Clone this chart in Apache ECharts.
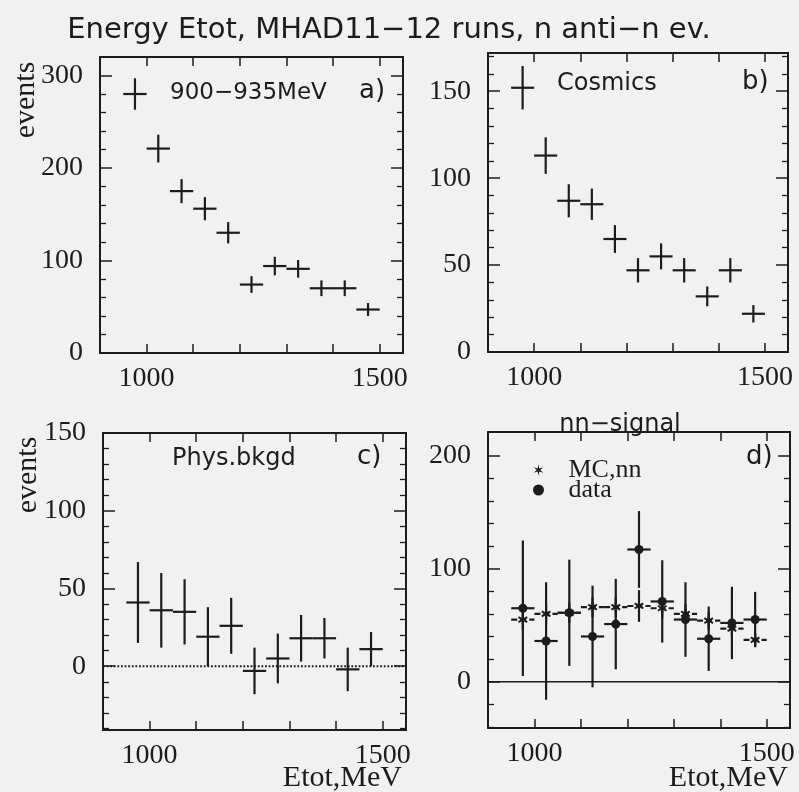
<!DOCTYPE html>
<html><head><meta charset="utf-8">
<script src="https://cdn.jsdelivr.net/npm/echarts@6/dist/echarts.min.js"></script>
<style>html,body{margin:0;padding:0;background:#f1f1f1}#c{width:799px;height:792px}</style>
</head><body><div id="c"></div>
<script>
// ---------- data ----------
const binCenters = [975, 1025, 1075, 1125, 1175, 1225, 1275, 1325, 1375, 1425, 1475];
const binHalfWidth = 25;

const aValues = [280, 221, 175, 156, 130, 74, 94, 91, 70, 70, 47];
const aErrors = [17, 15, 13, 12.5, 11.5, 9, 10, 9.5, 8.5, 8.5, 7];

const bValues = [152, 113, 87, 85, 65, 47, 55, 47, 32, 47, 22];
const bErrors = [12.5, 10.5, 9.5, 9, 8, 7, 7.5, 7, 5.7, 7, 5];

const cValues = [41, 36, 35, 19, 26, -3, 5, 18, 18, -2, 11];
const cErrors = [26, 24, 21, 19, 18, 15, 16, 15, 13, 14, 11];

const dDataValues = [65, 36, 61, 40, 51, 117, 71, 55, 38, 52, 55];
const dDataErrors = [60, 52, 47, 45, 40, 34, 36.5, 33, 28.5, 32, 24.5];
const dMCValues = [55, 60, 61, 66, 66, 67, 65, 60, 54, 47, 37];
const dMCErrors = [9, 9, 9, 9, 9, 14, 9, 9, 8, 8, 6];

const xRange = [900, 1550];
const xTickValues = [1000, 1100, 1200, 1300, 1400, 1500];
const xLabelValues = [1000, 1500];

const aYRange = [0, 320];
const aYMajor = [0, 100, 200, 300];
const aYMinor = [20, 40, 60, 80, 120, 140, 160, 180, 220, 240, 260, 280];
const bYRange = [0, 172];
const bYMajor = [0, 50, 100, 150];
const bYMinor = [10, 20, 30, 40, 60, 70, 80, 90, 110, 120, 130, 140, 160, 170];
const cYRange = [-41, 150];
const cYMajor = [0, 50, 100, 150];
const cYMinor = [-40, -30, -20, -10, 10, 20, 30, 40, 60, 70, 80, 90, 110, 120, 130, 140];
const dYRange = [-41, 221];
const dYMajor = [0, 100, 200];
const dYMinor = [-40, -20, 20, 40, 60, 80, 120, 140, 160, 180];

// ---------- styling ----------
const INK = '#1c1c1c';
const SERIF = '"Liberation Serif", "Times New Roman", serif';
const SANS = '"DejaVu Sans", sans-serif';

const grids = [
  {left: 100, top: 57, width: 303, height: 296},
  {left: 488, top: 53, width: 300, height: 299},
  {left: 103, top: 433, width: 303, height: 297},
  {left: 488, top: 432, width: 302, height: 296}
];
const yRanges = [aYRange, bYRange, cYRange, dYRange];
const yMajors = [aYMajor, bYMajor, cYMajor, dYMajor];
const yMinors = [aYMinor, bYMinor, cYMinor, dYMinor];

const xAxis = [], yAxis = [];
grids.forEach((g, i) => {
  ['bottom', 'top'].forEach((pos, k) => {
    xAxis.push({
      type: 'value', gridIndex: i, position: pos, min: xRange[0], max: xRange[1],
      axisLine: {show: true, onZero: false, lineStyle: {color: INK, width: 2}},
      axisTick: {show: true, inside: true, length: 9, customValues: xTickValues, lineStyle: {color: INK, width: 1.5}},
      axisLabel: {show: k === 0, customValues: xLabelValues, margin: 12, color: INK,
        fontFamily: SERIF, fontSize: 28, formatter: v => String(v)},
      splitLine: {show: false}
    });
  });
  ['left', 'right'].forEach((pos, k) => {
    yAxis.push({
      type: 'value', gridIndex: i, position: pos, min: yRanges[i][0], max: yRanges[i][1],
      axisLine: {show: true, onZero: false, lineStyle: {color: INK, width: 2}},
      axisTick: {show: true, inside: true, length: 12, customValues: yMajors[i], lineStyle: {color: INK, width: 1.5}},
      axisLabel: {show: k === 0, customValues: yMajors[i], margin: 17, color: INK,
        fontFamily: SERIF, fontSize: 28, formatter: v => String(v)},
      splitLine: {show: false}
    });
    yAxis.push({
      type: 'value', gridIndex: i, position: pos, min: yRanges[i][0], max: yRanges[i][1],
      axisLine: {show: false, onZero: false},
      axisTick: {show: true, inside: true, length: 6, customValues: yMinors[i], lineStyle: {color: INK, width: 1.3}},
      axisLabel: {show: false},
      splitLine: {show: false}
    });
  });
});

function rows(vals, errs) {
  return binCenters.map((x, j) => [x, vals[j], errs[j]]);
}

function errRender(marker, dashedH) {
  return function (params, api) {
    const x = api.value(0), y = api.value(1), e = api.value(2);
    const c = api.coord([x, y]);
    const l = api.coord([x - binHalfWidth, y]);
    const r = api.coord([x + binHalfWidth, y]);
    const t = api.coord([x, y + e]);
    const b = api.coord([x, y - e]);
    const st = {stroke: INK, lineWidth: 2.2};
    const children = [
      {type: 'line', shape: {x1: l[0], y1: l[1], x2: r[0], y2: r[1]},
        style: Object.assign({}, st, dashedH ? {lineDash: [6, 3]} : {})},
      {type: 'line', shape: {x1: t[0], y1: t[1], x2: b[0], y2: b[1]}, style: st}
    ];
    if (marker === 'circle') {
      children.push({type: 'circle', shape: {cx: c[0], cy: c[1], r: 4.5}, style: {fill: INK}});
    } else if (marker === 'star') {
      const s = 5;
      [[0, 1], [0.866, 0.5], [0.866, -0.5]].forEach(d => {
        children.push({type: 'line', shape: {x1: c[0] - d[0] * s, y1: c[1] - d[1] * s, x2: c[0] + d[0] * s, y2: c[1] + d[1] * s},
          style: {stroke: INK, lineWidth: 2}});
      });
    }
    return {type: 'group', children: children};
  };
}

function crossSeries(name, gi, vals, errs, marker, dashed) {
  return {
    name: name, type: 'custom', xAxisIndex: gi * 2, yAxisIndex: gi * 4,
    renderItem: errRender(marker, dashed), data: rows(vals, errs),
    encode: {x: 0, y: 1}, itemStyle: {color: INK}, silent: true, clip: false, z: 5
  };
}

function zeroLine(gi, type, width) {
  return {
    type: 'line', xAxisIndex: gi * 2, yAxisIndex: gi * 4, data: [[xRange[0], 0], [xRange[1], 0]],
    symbol: 'none', silent: true, lineStyle: {color: INK, width: width, type: type}, z: 3
  };
}

const starIcon = 'path://M5,0L5.8,3.614L9.33,2.5L6.6,5L9.33,7.5L5.8,6.386L5,10L4.2,6.386L0.67,7.5L3.4,5L0.67,2.5L4.2,3.614Z';

const series = [
  crossSeries('a', 0, aValues, aErrors, null, false),
  crossSeries('b', 1, bValues, bErrors, null, false),
  zeroLine(2, 'dotted', 1.8),
  crossSeries('c', 2, cValues, cErrors, null, false),
  zeroLine(3, 'solid', 1.6),
  crossSeries('MC,nn', 3, dMCValues, dMCErrors, 'star', true),
  crossSeries('data', 3, dDataValues, dDataErrors, 'circle', false)
];

function txt(x, y, s, font, align, rot) {
  return {type: 'text', x: x, y: y, rotation: rot || 0, silent: true,
    style: {text: s, font: font, fill: INK, align: align || 'left', textAlign: align || 'left',
      verticalAlign: 'middle', textVerticalAlign: 'middle'}};
}

const graphic = [
  txt(389, 30, 'Energy Etot, MHAD11\u221212 runs, n anti\u2212n ev.', '29px ' + SANS, 'center'),
  txt(170, 93, '900\u2212935MeV', '23px ' + SANS),
  txt(359, 91, 'a)', '26px ' + SANS),
  txt(557, 84, 'Cosmics', '24px ' + SANS),
  txt(742, 82, 'b)', '26px ' + SANS),
  txt(172, 459, 'Phys.bkgd', '24px ' + SANS),
  txt(357, 457, 'c)', '26px ' + SANS),
  txt(746, 457, 'd)', '26px ' + SANS),
  txt(620, 425, 'nn\u2212signal', '24px ' + SANS, 'center'),
  txt(26, 100, 'events', '30px ' + SERIF, 'center', Math.PI / 2),
  txt(28, 475, 'events', '30px ' + SERIF, 'center', Math.PI / 2),
  txt(402, 778, 'Etot,MeV', '30px ' + SERIF, 'right'),
  txt(788, 778, 'Etot,MeV', '30px ' + SERIF, 'right')
];

const chart = echarts.init(document.getElementById('c'), null, {renderer: 'canvas'});
chart.setOption({
  backgroundColor: '#f1f1f1',
  animation: false,
  grid: grids.map(g => Object.assign({containLabel: false}, g)),
  xAxis: xAxis,
  yAxis: yAxis,
  legend: {
    data: [{name: 'MC,nn', icon: starIcon}, {name: 'data', icon: 'circle'}],
    orient: 'vertical', left: 528, top: 452, itemWidth: 50, itemHeight: 11, itemGap: -6,
    selectedMode: false,
    textStyle: {fontFamily: SERIF, fontSize: 26, color: INK}
  },
  series: series,
  graphic: graphic
});
</script></body></html>
